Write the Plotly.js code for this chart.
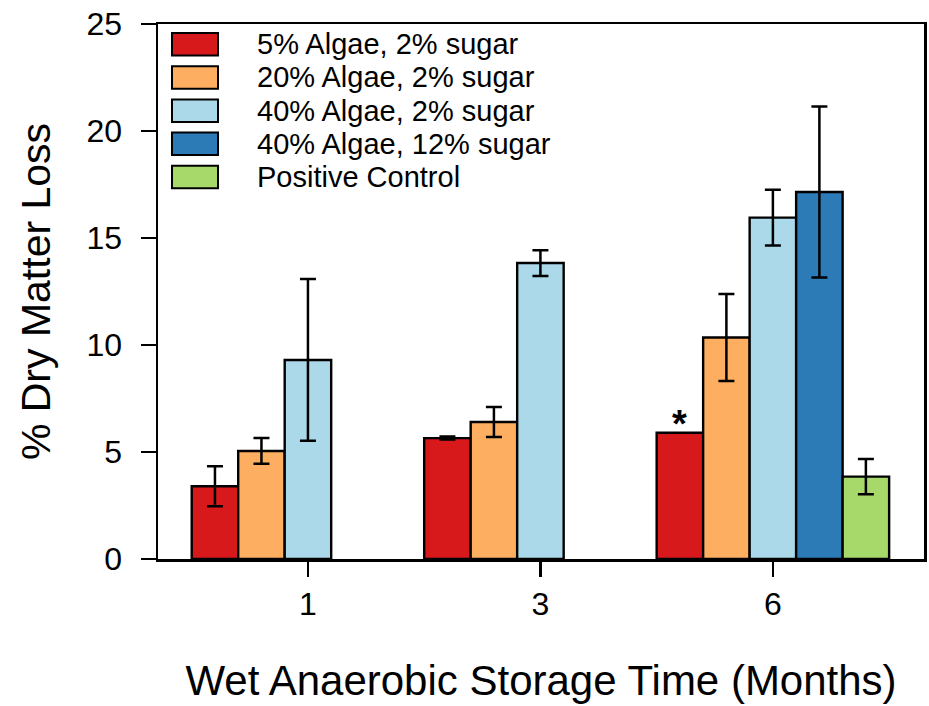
<!DOCTYPE html>
<html>
<head>
<meta charset="utf-8">
<script src="https://cdn.plot.ly/plotly-3.0.1.min.js"></script>
<style>html,body{margin:0;padding:0;background:#fff;}#chart{width:929px;height:706px;}</style>
</head>
<body>
<div id="chart"></div>
<script>
// ---- data ----
var months = ['1', '3', '6'];
var seriesNames = ['5% Algae, 2% sugar', '20% Algae, 2% sugar', '40% Algae, 2% sugar', '40% Algae, 12% sugar', 'Positive Control'];
var algae5 = [3.4, 5.65, 5.9];
var algae5Err = [0.93, 0.07, NaN];
var algae20 = [5.05, 6.4, 10.35];
var algae20Err = [0.6, 0.7, 2.03];
var algae40 = [9.3, 13.83, 15.95];
var algae40Err = [3.78, 0.6, 1.3];
var algae40s12 = [null, null, 17.15];
var algae40s12Err = [NaN, NaN, 4.0];
var control = [null, null, 3.85];
var controlErr = [NaN, NaN, 0.82];
var yTicks = [0, 5, 10, 15, 20, 25];
var asteriskMonth = '6';

// ---- style ----
var colors = ['#D7191C', '#FDAE61', '#ABD9E9', '#2C7BB6', '#A6D96A'];
var font = 'Liberation Sans, Arial, sans-serif';
var allValues = [algae5, algae20, algae40, algae40s12, control];
var allErrs = [algae5Err, algae20Err, algae40Err, algae40s12Err, controlErr];

var traces = allValues.map(function (vals, i) {
  return {
    type: 'bar',
    name: seriesNames[i],
    x: months,
    y: vals,
    marker: { color: colors[i], line: { color: '#000', width: 2.4 } },
    error_y: { type: 'data', array: allErrs[i], visible: true, color: '#000', thickness: 2.5, width: 8 },
    showlegend: false,
    hoverinfo: 'skip'
  };
});

var W = 929, H = 706;
var margin = { l: 158, r: 5, t: 24, b: 147 };
var plotW = W - margin.l - margin.r;
var plotH = H - margin.t - margin.b;
var xRange = [-0.645, 2.65];
var slotPx = plotW / (xRange[1] - xRange[0]) / traces.length;

// custom legend (shapes + text) in paper coordinates
var shapes = [];
var annotations = [];
var rowTop = 33, rowStep = 33.2, swH = 22.5;
seriesNames.forEach(function (nm, i) {
  var top = rowTop + i * rowStep;
  var y0 = (H - margin.b - (top + swH)) / plotH;
  var y1 = (H - margin.b - top) / plotH;
  shapes.push({
    type: 'rect', xref: 'paper', yref: 'paper',
    x0: (172 - margin.l) / plotW, x1: (218 - margin.l) / plotW,
    y0: y0, y1: y1,
    fillcolor: colors[i], line: { color: '#000', width: 2 }
  });
  annotations.push({
    xref: 'paper', yref: 'paper',
    x: (255 - margin.l) / plotW, y: (y0 + y1) / 2,
    xanchor: 'left', yanchor: 'middle',
    text: nm, showarrow: false,
    font: { family: font, size: 29, color: '#000' }
  });
});

// asterisk above the 5% algae bar at 6 months (category axis: position = category index)
var idx = months.indexOf(asteriskMonth);
annotations.push({
  x: idx, y: algae5[idx], xref: 'x', yref: 'y',
  xshift: -2 * slotPx, yshift: 9, yanchor: 'middle',
  text: '<b>*</b>', showarrow: false,
  font: { family: font, size: 38, color: '#000' }
});

var layout = {
  width: W, height: H,
  margin: margin,
  paper_bgcolor: '#fff', plot_bgcolor: '#fff',
  barmode: 'group', bargap: 0, bargroupgap: 0,
  font: { family: font, color: '#000' },
  showlegend: false,
  xaxis: {
    type: 'category', range: xRange,
    showline: true, linecolor: '#000', linewidth: 2.5, mirror: true,
    ticks: 'outside', ticklen: 15, tickwidth: 2.5, tickcolor: '#000',
    ticklabelstandoff: 0,
    tickfont: { family: font, size: 32, color: '#000' },
    showgrid: false, zeroline: false,
    title: { text: 'Wet Anaerobic Storage Time (Months)', font: { family: font, size: 42, color: '#000' }, standoff: 45 },
    automargin: false
  },
  yaxis: {
    range: [0, 25], tickvals: yTicks, ticktext: yTicks.map(String),
    showline: true, linecolor: '#000', linewidth: 2.5, mirror: true,
    ticks: 'outside', ticklen: 15, tickwidth: 2.5, tickcolor: '#000',
    ticklabelstandoff: 12,
    tickfont: { family: font, size: 32, color: '#000' },
    showgrid: false, zeroline: false,
    title: { text: '% Dry Matter Loss', font: { family: font, size: 41, color: '#000' }, standoff: 23 },
    automargin: false
  },
  shapes: shapes,
  annotations: annotations
};

Plotly.newPlot('chart', traces, layout, { displayModeBar: false, staticPlot: true });
</script>
</body>
</html>
